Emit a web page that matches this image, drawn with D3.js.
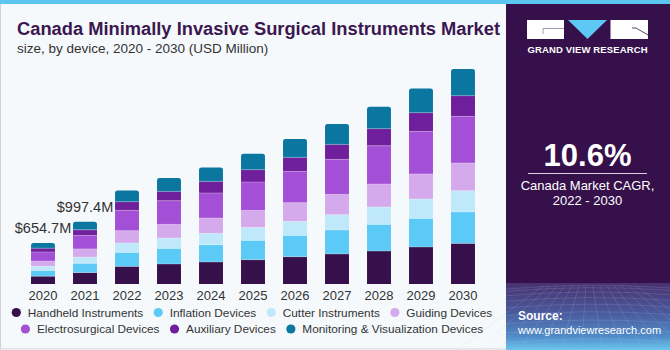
<!DOCTYPE html>
<html lang="en">
<head>
<meta charset="UTF-8">
<title>Canada Minimally Invasive Surgical Instruments Market</title>
<style>
  body { margin: 0; }
  svg { display: block; font-family: "Liberation Sans", Arial, sans-serif; }
</style>
</head>
<body>
<svg width="670" height="350"></svg>
<script src="https://d3js.org/d3.v7.min.js"></script>
<script>
// data (USD Million)
var years = ["2020", "2021", "2022", "2023", "2024", "2025", "2026", "2027", "2028", "2029", "2030"];
var segments = ["Handheld Instruments", "Inflation Devices", "Cutter Instruments", "Guiding Devices",
  "Electrosurgical Devices", "Auxiliary Devices", "Monitoring & Visualization Devices"];
var handheld   = [124.5, 183.0, 282, 320, 352, 389, 437, 480, 528, 592, 650];
var inflation  = [93.2, 148.0, 224, 250, 277, 309, 341, 384, 426, 458, 502];
var cutter     = [65.4, 99.0, 150, 166, 181, 208, 224, 245, 278, 310, 341];
var guiding    = [81.9, 131.0, 197, 218, 246, 272, 299, 325, 368, 400, 443];
var electro    = [147.3, 216.0, 325, 379, 400, 454, 501, 560, 613, 682, 746];
var auxiliary  = [60.5, 90.0, 139, 149, 186, 197, 224, 240, 272, 299, 331];
var monitoring = [81.9, 130.4, 181, 214, 224, 256, 294, 326, 352, 389, 427];
var valueLabels = ["$654.7M", "$997.4M"];
var colors = ["#36104a", "#5ccaf6", "#bfe9fb", "#d5aaec", "#a450d6", "#6f1f9b", "#0b77a1"];

var svg = d3.select("svg");
var W = +svg.attr("width"), H = +svg.attr("height");

// backgrounds
svg.append("rect").attr("x", 0.5).attr("y", 0.5).attr("width", 506).attr("height", H - 1.5)
  .attr("fill", "#f5f9fc").attr("stroke", "#cfd3d8");
var defs = svg.append("defs");
var grad = defs.append("linearGradient").attr("id", "bot").attr("x1", 0).attr("y1", 0).attr("x2", 0).attr("y2", 1);
grad.append("stop").attr("offset", "0%").attr("stop-color", "#4a3170");
grad.append("stop").attr("offset", "45%").attr("stop-color", "#4a5a9c");
grad.append("stop").attr("offset", "80%").attr("stop-color", "#4f8cc8");
grad.append("stop").attr("offset", "100%").attr("stop-color", "#6cc6ee");
svg.append("rect").attr("x", 506).attr("y", 0).attr("width", W - 506).attr("height", H).attr("fill", "#35104a");
svg.append("rect").attr("x", 506).attr("y", 283).attr("width", W - 506).attr("height", H - 283).attr("fill", "url(#bot)");
// faint grid texture in the bottom of the panel
var grid = svg.append("g").attr("stroke", "#b9c8ee").attr("stroke-opacity", 0.28).attr("stroke-width", 0.6).attr("fill", "none");
d3.range(0, 14).forEach(function (i) {
  var x0 = 506 + i * 13;
  grid.append("path").attr("d", "M" + (588 + (x0 - 588) * 0.55) + ",286 L" + (588 + (x0 - 588) * 1.6) + ",350");
});
d3.range(0, 10).forEach(function (j) {
  var yy = 286 + Math.pow(j / 9, 1.5) * 64;
  grid.append("path").attr("d", "M506," + (yy + 3) + " Q588," + (yy - 4) + " 670," + (yy + 2));
});
svg.append("rect").attr("x", 0).attr("y", 0).attr("width", W).attr("height", 4).attr("fill", "#5dc6f0");

// titles
svg.append("text").attr("x", 17).attr("y", 35).attr("font-size", 17.5).attr("font-weight", "bold")
  .attr("fill", "#3b1750").attr("textLength", 483).attr("lengthAdjust", "spacingAndGlyphs")
  .text("Canada Minimally Invasive Surgical Instruments Market");
svg.append("text").attr("x", 17).attr("y", 53).attr("font-size", 13.5).attr("fill", "#333")
  .text("size, by device, 2020 - 2030 (USD Million)");

// scales
var x = d3.scaleBand().domain(years).range([22, 484]).paddingInner(0.43).paddingOuter(0.215);
var y = d3.scaleLinear().domain([0, 3600]).range([284, 59]);

var seriesArr = [handheld, inflation, cutter, guiding, electro, auxiliary, monitoring];
var table = years.map(function (yr, i) {
  var row = { year: yr };
  segments.forEach(function (s, k) { row[s] = seriesArr[k][i]; });
  return row;
});
var stacked = d3.stack().keys(segments)(table);

var bars = svg.append("g");
stacked.forEach(function (layer, k) {
  var g = bars.append("g").attr("fill", colors[k]);
  layer.forEach(function (d) {
    var x0 = x(d.data.year), bw = x.bandwidth();
    var top = y(d[1]), bot = y(d[0]);
    if (k === segments.length - 1) {
      var r = 2.5;
      g.append("path").attr("d", "M" + x0 + "," + bot + " V" + (top + r) + " Q" + x0 + "," + top + " " + (x0 + r) + "," + top +
        " H" + (x0 + bw - r) + " Q" + (x0 + bw) + "," + top + " " + (x0 + bw) + "," + (top + r) + " V" + bot + " Z");
    } else {
      g.append("rect").attr("x", x0).attr("y", top).attr("width", bw).attr("height", bot - top);
    }
  });
});
// thin light separators between segments
stacked.slice(0, segments.length - 1).forEach(function (layer) {
  layer.forEach(function (d) {
    bars.append("line").attr("x1", x(d.data.year)).attr("x2", x(d.data.year) + x.bandwidth())
      .attr("y1", y(d[1])).attr("y2", y(d[1])).attr("stroke", "#ffffff").attr("stroke-opacity", 0.35).attr("stroke-width", 0.8);
  });
});

// value labels
var last = stacked[stacked.length - 1];
valueLabels.forEach(function (t, i) {
  svg.append("text").attr("x", x(years[i]) + x.bandwidth() / 2).attr("y", y(last[i][1]) - 10)
    .attr("text-anchor", "middle").attr("font-size", 14.5).attr("fill", "#333").text(t);
});

// x axis labels
var xAxis = svg.append("g").attr("transform", "translate(0,287)")
  .call(d3.axisBottom(x).tickSize(0).tickPadding(4));
xAxis.select(".domain").remove();
xAxis.selectAll("text").attr("font-size", 13).attr("fill", "#333").attr("font-family", "Liberation Sans, Arial, sans-serif");

// legend
var rows = [[0, 1, 2, 3], [4, 5, 6]];
var rowY = [312.5, 329];
rows.forEach(function (row, ri) {
  var g = svg.append("g");
  var cx = 0;
  row.forEach(function (k) {
    var it = g.append("g").attr("transform", "translate(" + cx + ",0)");
    it.append("circle").attr("cx", 4.5).attr("cy", rowY[ri]).attr("r", 4.6).attr("fill", colors[k]);
    var tx = it.append("text").attr("x", 16).attr("y", rowY[ri] + 4.2).attr("font-size", 11.8).attr("fill", "#333").text(segments[k]);
    cx += 16 + tx.node().getComputedTextLength() + 10.5;
  });
  var total = cx - 10.5;
  g.attr("transform", "translate(" + (252 - total / 2) + ",0)");
});

// right panel: logo
var logo = svg.append("g");
logo.append("rect").attr("x", 527).attr("y", 20).attr("width", 37).attr("height", 19).attr("fill", "#fff");
logo.append("path").attr("d", "M543,34 V28.5 H564").attr("stroke", "#8a7f95").attr("stroke-width", 0.8).attr("fill", "none");
logo.append("path").attr("d", "M568,20 H607 L587.5,39 Z").attr("fill", "#5ec8f5");
logo.append("rect").attr("x", 610.5).attr("y", 20).attr("width", 37.5).attr("height", 19).attr("fill", "#fff");
logo.append("path").attr("d", "M632,28 H636 L648,35").attr("stroke", "#5a4a6a").attr("stroke-width", 1).attr("fill", "none");
logo.append("text").attr("x", 587.5).attr("y", 53).attr("text-anchor", "middle").attr("font-size", 9.5)
  .attr("font-weight", "bold").attr("fill", "#fff").attr("textLength", 120).attr("lengthAdjust", "spacing")
  .text("GRAND VIEW RESEARCH");

// CAGR block
svg.append("text").attr("x", 587.5).attr("y", 166).attr("text-anchor", "middle").attr("font-size", 31)
  .attr("font-weight", "bold").attr("fill", "#fff").text("10.6%");
svg.append("line").attr("x1", 528).attr("x2", 647).attr("y1", 173.5).attr("y2", 173.5)
  .attr("stroke", "#d9cfe3").attr("stroke-width", 1);
svg.append("text").attr("x", 587.5).attr("y", 190).attr("text-anchor", "middle").attr("font-size", 13)
  .attr("fill", "#fff").text("Canada Market CAGR,");
svg.append("text").attr("x", 587.5).attr("y", 205).attr("text-anchor", "middle").attr("font-size", 13)
  .attr("fill", "#fff").text("2022 - 2030");

// source
svg.append("text").attr("x", 518).attr("y", 320).attr("font-size", 12).attr("font-weight", "bold")
  .attr("fill", "#fff").text("Source:");
svg.append("text").attr("x", 518).attr("y", 333.5).attr("font-size", 11).attr("fill", "#fff")
  .text("www.grandviewresearch.com");
</script>
</body>
</html>
